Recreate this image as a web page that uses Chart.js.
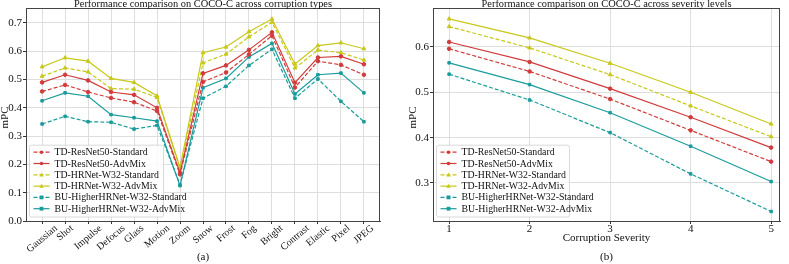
<!DOCTYPE html>
<html>
<head>
<meta charset="utf-8">
<script src="https://cdn.jsdelivr.net/npm/chart.js@4.4.1/dist/chart.umd.min.js"></script>
<style>
  html,body{margin:0;padding:0;background:#fff;}
  #wrap{position:relative;width:789px;height:264px;overflow:hidden;background:#fff;}
  canvas{position:absolute;top:0;}
</style>
</head>
<body>
<div id="wrap">
  <canvas id="c1" width="390" height="264" style="left:0"></canvas>
  <canvas id="c2" width="399" height="264" style="left:390px"></canvas>
</div>
<script>
// ---------- data (a): across corruption types ----------
const categories = ['Gaussian','Shot','Impulse','Defocus','Glass','Motion','Zoom','Snow','Frost','Fog','Bright','Contrast','Elastic','Pixel','JPEG'];
const typeResNetStd = [0.458,0.481,0.456,0.435,0.420,0.389,0.165,0.492,0.525,0.589,0.655,0.472,0.565,0.552,0.517];
const typeResNetAdv = [0.490,0.517,0.497,0.456,0.446,0.400,0.170,0.522,0.550,0.605,0.667,0.489,0.578,0.582,0.554];
const typeHRNetStd  = [0.512,0.541,0.527,0.468,0.466,0.437,0.185,0.559,0.590,0.651,0.703,0.541,0.604,0.595,0.569];
const typeHRNetAdv  = [0.545,0.577,0.565,0.504,0.490,0.442,0.190,0.595,0.615,0.669,0.714,0.555,0.620,0.630,0.609];
const typeBUStd     = [0.343,0.370,0.351,0.349,0.325,0.338,0.128,0.434,0.476,0.550,0.607,0.434,0.502,0.423,0.351];
const typeBUAdv     = [0.425,0.453,0.441,0.376,0.365,0.353,0.125,0.471,0.504,0.580,0.628,0.449,0.517,0.523,0.453];
const typeYTicks = [0.0,0.1,0.2,0.3,0.4,0.5,0.6,0.7];

// ---------- data (b): across severity levels ----------
const severities = [1,2,3,4,5];
const sevResNetStd = [0.596,0.546,0.485,0.416,0.347];
const sevResNetAdv = [0.611,0.567,0.508,0.445,0.378];
const sevHRNetStd  = [0.645,0.598,0.539,0.470,0.402];
const sevHRNetAdv  = [0.662,0.620,0.564,0.500,0.430];
const sevBUStd     = [0.540,0.483,0.411,0.320,0.237];
const sevBUAdv     = [0.565,0.517,0.455,0.381,0.303];
const sevYTicks = [0.3,0.4,0.5,0.6];

const seriesNames = ['TD-ResNet50-Standard','TD-ResNet50-AdvMix','TD-HRNet-W32-Standard','TD-HRNet-W32-AdvMix','BU-HigherHRNet-W32-Standard','BU-HigherHRNet-W32-AdvMix'];

const RED='#d13b3b', YEL='#c8c81a', TEAL='#1b9c9c';
const styles = [
  {c:RED, dash:[4,2], pt:'circle', r:1.8},
  {c:RED, dash:[], pt:'circle', r:1.8},
  {c:YEL, dash:[4,2], pt:'triangle', r:2.2},
  {c:YEL, dash:[], pt:'triangle', r:2.2},
  {c:TEAL, dash:[4,2], pt:'rect', r:1.8},
  {c:TEAL, dash:[], pt:'rect', r:1.8},
];
const FONT = '"Liberation Serif", "Times New Roman", serif';

function mkDatasets(xs, arrs){
  return arrs.map((a,i)=>({
    label: seriesNames[i],
    data: a.map((v,j)=>({x:xs[j], y:v})),
    borderColor: styles[i].c,
    backgroundColor: styles[i].c,
    borderWidth: 1.2,
    borderDash: styles[i].dash,
    pointStyle: styles[i].pt,
    pointRadius: styles[i].r,
    pointBorderWidth: 1,
    pointHoverRadius: styles[i].r,
    tension: 0,
    fill: false
  }));
}

function decorPlugin(opts){
  return {
    id:'decor',
    afterDraw(chart){
      const ctx = chart.ctx, ca = chart.chartArea;
      ctx.save();
      // frame
      ctx.strokeStyle = '#444'; ctx.lineWidth = 1;
      ctx.strokeRect(Math.round(ca.left)+0.5, Math.round(ca.top)+0.5, Math.round(ca.right-ca.left)-1, Math.round(ca.bottom-ca.top));
      // title
      ctx.fillStyle = '#111';
      ctx.font = '10.4px '+FONT;
      ctx.textAlign='center'; ctx.textBaseline='alphabetic';
      ctx.fillText(opts.title, (ca.left+ca.right)/2, 6.5);
      // y title
      ctx.save();
      ctx.translate(opts.yTitleX, (ca.top+ca.bottom)/2 + 3);
      ctx.rotate(-Math.PI/2);
      ctx.font = '11px '+FONT;
      ctx.textBaseline='middle';
      ctx.fillText('mPC',0,0);
      ctx.restore();
      // x title
      if(opts.xTitle){
        ctx.font = '11px '+FONT;
        ctx.textBaseline='middle';
        ctx.fillText(opts.xTitle,(ca.left+ca.right)/2, 238.5);
      }
      // sub label
      ctx.font = '11px '+FONT;
      ctx.textBaseline='middle';
      ctx.fillText(opts.sub,(ca.left+ca.right)/2, 257);
      // rotated category labels
      if(opts.rotLabels){
        const xs = chart.scales.x;
        ctx.font = '10px '+FONT;
        const ang = 40*Math.PI/180, h = 8;
        opts.rotLabels.forEach((lab,i)=>{
          const px = xs.getPixelForValue(i);
          const L = ctx.measureText(lab).width;
          const H = L*Math.sin(ang) + h*Math.cos(ang);
          ctx.save();
          ctx.translate(px, ca.bottom + 3 + H/2);
          ctx.rotate(-ang);
          ctx.textAlign='center'; ctx.textBaseline='middle';
          ctx.fillText(lab,0,0);
          ctx.restore();
        });
      }
      // legend
      const bx = ca.left + 3.5, bw = opts.legendW, rowH = 11.3, bh = rowH*6 + 4;
      const by = ca.bottom - 4 - bh;
      ctx.beginPath();
      if(ctx.roundRect) ctx.roundRect(bx, by, bw, bh, 2); else ctx.rect(bx,by,bw,bh);
      ctx.fillStyle='rgba(255,255,255,0.85)'; ctx.fill();
      ctx.strokeStyle='#d0d0d0'; ctx.lineWidth=0.8; ctx.stroke();
      ctx.font='9.8px '+FONT;
      chart.data.datasets.forEach((ds,i)=>{
        const yy = by + 7 + i*rowH;
        const x0 = bx + 4, x1 = bx + 20;
        ctx.strokeStyle = styles[i].c; ctx.lineWidth=1.2;
        ctx.setLineDash(styles[i].dash);
        ctx.beginPath(); ctx.moveTo(x0,yy); ctx.lineTo(x1,yy); ctx.stroke();
        ctx.setLineDash([]);
        ctx.fillStyle = styles[i].c;
        const mx=(x0+x1)/2;
        if(styles[i].pt==='circle'){ctx.beginPath();ctx.arc(mx,yy,1.8,0,Math.PI*2);ctx.fill();}
        else if(styles[i].pt==='triangle'){ctx.beginPath();ctx.moveTo(mx,yy-2.3);ctx.lineTo(mx+2.2,yy+1.6);ctx.lineTo(mx-2.2,yy+1.6);ctx.closePath();ctx.fill();}
        else {ctx.fillRect(mx-1.9,yy-1.9,3.8,3.8);}
        ctx.fillStyle='#111'; ctx.textAlign='left'; ctx.textBaseline='middle';
        ctx.fillText(ds.label, bx+25, yy+0.5);
      });
      ctx.restore();
    }
  };
}

Chart.defaults.font.family = FONT;
Chart.defaults.color = '#111';

function baseOptions(cfg){
  return {
    responsive:false, animation:false, devicePixelRatio:1,
    layout:{padding:{left:0,right:cfg.padRight,top:8,bottom:0}},
    plugins:{legend:{display:false}, title:{display:false}, tooltip:{enabled:false}},
    scales:{
      x:{
        type:'linear', min:cfg.xmin, max:cfg.xmax,
        afterFit:(s)=>{s.height=43;},
        afterBuildTicks:(s)=>{s.ticks = cfg.xTicks.map(v=>({value:v}));},
        grid:{color:'#dedede', lineWidth:1, tickLength:3, tickColor:'#333'},
        border:{display:true,color:'#444'},
        ticks:{display:cfg.xTickDisplay, padding:-1, font:{size:11}, callback:(v)=>String(v), maxRotation:0, autoSkip:false}
      },
      y:{
        type:'linear', min:cfg.ymin, max:cfg.ymax,
        afterFit:(s)=>{s.width=cfg.yWidth;},
        afterBuildTicks:(s)=>{s.ticks = cfg.yTicks.map(v=>({value:v}));},
        grid:{color:'#dedede', lineWidth:1, tickLength:3, tickColor:'#333'},
        border:{display:true,color:'#444'},
        ticks:{padding:1, font:{size:11}, callback:(v)=>Number(v).toFixed(1), autoSkip:false}
      }
    }
  };
}

new Chart(document.getElementById('c1'),{
  type:'line',
  data:{datasets: mkDatasets(categories.map((_,i)=>i), [typeResNetStd,typeResNetAdv,typeHRNetStd,typeHRNetAdv,typeBUStd,typeBUAdv])},
  options: baseOptions({padRight:10, xmin:-0.7, xmax:14.7, xTicks:categories.map((_,i)=>i), xTickDisplay:false, ymin:0, ymax:0.753, yTicks:typeYTicks, yWidth:26}),
  plugins:[decorPlugin({title:'Performance comparison on COCO-C across corruption types', sub:'(a)', yTitleX:5, rotLabels:categories, legendW:134})]
});

new Chart(document.getElementById('c2'),{
  type:'line',
  data:{datasets: mkDatasets(severities, [sevResNetStd,sevResNetAdv,sevHRNetStd,sevHRNetAdv,sevBUStd,sevBUAdv])},
  options: baseOptions({padRight:9, xmin:0.8, xmax:5.11, xTicks:severities, xTickDisplay:true, ymin:0.216, ymax:0.686, yTicks:sevYTicks, yWidth:43}),
  plugins:[decorPlugin({title:'Performance comparison on COCO-C across severity levels', sub:'(b)', yTitleX:23, xTitle:'Corruption Severity', legendW:133})]
});
</script>
</body>
</html>
